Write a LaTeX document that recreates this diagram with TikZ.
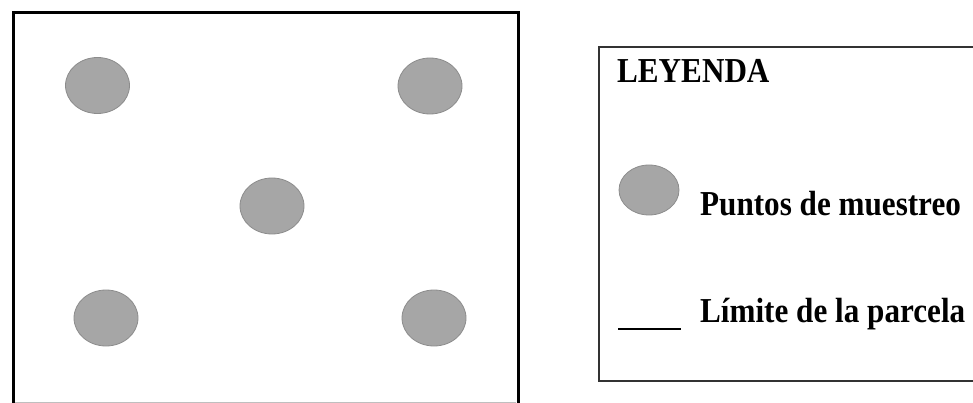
\documentclass[tikz,border=0pt]{standalone}
\usepackage{fontspec}
\setmainfont{Liberation Serif}
\usetikzlibrary{shapes.geometric}
\tikzset{
  punto/.style={ellipse, draw=black!45, line width=0.8pt, fill=black!35, minimum width=64pt, minimum height=56pt, inner sep=0pt},
  leyt/.style={anchor=base west, inner sep=0pt, xscale=0.89, font=\fontsize{35}{42}\selectfont\bfseries},
  borde/.style={line width=3pt, draw=black}
}
\begin{document}
\begin{tikzpicture}[x=1pt, y=-1pt]
\clip (0,0) rectangle (973,403);
\fill[white] (0,0) rectangle (973,403);
% main plot boundary
\draw[borde] (13.5,420) -- (13.5,12.5) -- (518,12.5) -- (518,420);
\draw[black!25, line width=1pt] (15,402.5) -- (516,402.5);
% sample points
\node[punto] (p1) at (97.5,85.5) {};
\node[punto] (p2) at (430,86) {};
\node[punto] (p3) at (272,206) {};
\node[punto] (p4) at (106,318) {};
\node[punto] (p5) at (434,318) {};
% legend box
\draw[black!80, line width=2pt] (1000,47.5) -- (599,47.5) -- (599,381) -- (1000,381);
\node[leyt] (ley) at (617,83) {LEYENDA};
\node[punto, minimum width=60pt, minimum height=50pt] (lp) at (649,190) {};
\node[leyt] (t1) at (700,215) {Puntos de muestreo};
\coordinate (l1) at (618,328.5);
\coordinate (l2) at (681,328.5);
\draw[black, line width=2pt] (l1) -- (l2);
\node[leyt] (t2) at (700,322) {Límite de la parcela};
\end{tikzpicture}
\end{document}
